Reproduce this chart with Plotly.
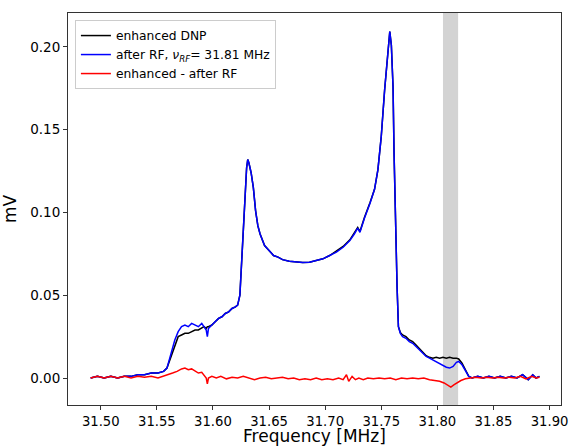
import plotly.graph_objects as go

# ---- data ----
freq = [31.491, 31.497, 31.503, 31.509, 31.515, 31.521, 31.527, 31.533, 31.539, 31.545,
        31.551, 31.556, 31.559, 31.562, 31.566, 31.569, 31.572, 31.575, 31.578, 31.581,
        31.584, 31.587, 31.590, 31.592, 31.594, 31.595, 31.596, 31.599, 31.602, 31.605,
        31.608, 31.611, 31.614, 31.617, 31.620, 31.622, 31.624, 31.626, 31.628, 31.630,
        31.631, 31.632, 31.634, 31.636, 31.638, 31.640, 31.642, 31.646, 31.650, 31.654,
        31.658, 31.662, 31.668, 31.674, 31.680, 31.686, 31.692, 31.698, 31.704, 31.710,
        31.716, 31.722, 31.726, 31.729, 31.731, 31.735, 31.740, 31.744, 31.747, 31.750,
        31.753, 31.756, 31.7576, 31.759, 31.7605, 31.7614, 31.7626, 31.7641, 31.7653, 31.767,
        31.769, 31.772, 31.775, 31.778, 31.781, 31.784, 31.787, 31.790, 31.793, 31.796,
        31.799, 31.802, 31.805, 31.808, 31.811, 31.814, 31.817, 31.819, 31.822, 31.825,
        31.828, 31.831, 31.836, 31.841, 31.846, 31.851, 31.856, 31.861, 31.866, 31.871,
        31.876, 31.881, 31.885, 31.888, 31.891]

after_rf = [0.000, 0.001, 0.000, 0.001, 0.000, 0.001, 0.001, 0.002, 0.002, 0.003,
            0.003, 0.004, 0.006, 0.013, 0.023, 0.028, 0.031, 0.032, 0.031, 0.033,
            0.032, 0.031, 0.033, 0.031, 0.029, 0.025, 0.030, 0.032, 0.034, 0.036,
            0.037, 0.039, 0.040, 0.042, 0.043, 0.044, 0.050, 0.075, 0.105, 0.127,
            0.132, 0.130, 0.124, 0.115, 0.101, 0.092, 0.087, 0.080, 0.077, 0.074,
            0.073, 0.0715, 0.0705, 0.0700, 0.0698, 0.0700, 0.0710, 0.0720, 0.0740, 0.0760,
            0.0790, 0.0830, 0.0870, 0.0905, 0.0880, 0.0965, 0.1055, 0.1140, 0.1257, 0.1460,
            0.1740, 0.1990, 0.2093, 0.2010, 0.1760, 0.1360, 0.0955, 0.0550, 0.0310, 0.0270,
            0.025, 0.024, 0.022, 0.021, 0.019, 0.017, 0.015, 0.013, 0.012, 0.011,
            0.010, 0.009, 0.008, 0.0065, 0.006, 0.007, 0.0095, 0.010, 0.008, 0.004,
            0.001, 0.000, 0.001, 0.000, 0.001, 0.000, 0.001, 0.000, 0.001, 0.000,
            0.002, -0.001, 0.002, 0.000, 0.001]

enhanced = [0.000, 0.001, 0.000, 0.001, 0.000, 0.001, 0.001, 0.002, 0.002, 0.003,
            0.003, 0.004, 0.006, 0.012, 0.020, 0.025, 0.026, 0.027, 0.027, 0.028,
            0.029, 0.029, 0.030, 0.031, 0.030, 0.031, 0.031, 0.032, 0.034, 0.036,
            0.037, 0.039, 0.040, 0.042, 0.043, 0.044, 0.050, 0.075, 0.105, 0.127,
            0.132, 0.130, 0.124, 0.115, 0.101, 0.092, 0.087, 0.080, 0.077, 0.074,
            0.073, 0.0715, 0.0705, 0.0700, 0.0698, 0.0700, 0.0710, 0.0720, 0.0740, 0.0765,
            0.0795, 0.0835, 0.0875, 0.0910, 0.0885, 0.0970, 0.1060, 0.1140, 0.1257, 0.1460,
            0.1740, 0.1990, 0.2093, 0.2010, 0.1760, 0.1360, 0.0955, 0.0550, 0.0310, 0.0275,
            0.026, 0.025, 0.023, 0.022, 0.020, 0.018, 0.016, 0.0135, 0.0125, 0.012,
            0.0125, 0.012, 0.0125, 0.012, 0.0125, 0.012, 0.012, 0.0115, 0.009, 0.005,
            0.001, 0.000, 0.001, 0.000, 0.001, 0.000, 0.001, 0.000, 0.001, 0.000,
            0.002, -0.001, 0.002, 0.000, 0.001]

freq_diff = [31.491, 31.497, 31.503, 31.509, 31.515, 31.521, 31.527, 31.533, 31.539, 31.545,
             31.551, 31.556, 31.560, 31.564, 31.568, 31.572, 31.575, 31.578, 31.581, 31.584,
             31.587, 31.590, 31.592, 31.594, 31.595, 31.596, 31.599, 31.603, 31.607, 31.612,
             31.617, 31.622, 31.627, 31.632, 31.637, 31.642, 31.647, 31.652, 31.657, 31.662,
             31.667, 31.672, 31.677, 31.682, 31.687, 31.692, 31.697, 31.702, 31.707, 31.712,
             31.716, 31.719, 31.721, 31.724, 31.727, 31.730, 31.734, 31.738, 31.743, 31.748,
             31.753, 31.758, 31.763, 31.768, 31.773, 31.778, 31.783, 31.788, 31.793, 31.798,
             31.802, 31.806, 31.809, 31.812, 31.815, 31.818, 31.821, 31.825, 31.829, 31.834,
             31.839, 31.844, 31.849, 31.854, 31.859, 31.864, 31.869, 31.874, 31.879, 31.884,
             31.888, 31.891]

difference = [0.000, 0.001, 0.000, 0.001, 0.000, 0.001, 0.000, 0.001, 0.0005, 0.001,
              0.000, 0.001, 0.002, 0.003, 0.004, 0.0055, 0.006, 0.005, 0.0055, 0.004,
              0.003, 0.0035, 0.002, 0.000, -0.0035, 0.000, 0.001, 0.000, 0.001, -0.0005,
              0.0005, 0.000, 0.001, 0.000, -0.001, 0.000, 0.0005, -0.0005, 0.000, 0.0005,
              -0.0005, 0.000, -0.001, -0.0005, -0.001, 0.000, -0.001, -0.0005, -0.001, 0.000,
              -0.001, 0.002, -0.002, 0.001, -0.001, 0.000, -0.001, 0.000, -0.0005, 0.000,
              -0.0005, 0.000, -0.001, 0.000, -0.0005, 0.000, -0.0005, 0.000, -0.001, -0.0015,
              -0.002, -0.003, -0.0045, -0.0055, -0.004, -0.0025, -0.0015, -0.0005, 0.000, 0.0005,
              0.000, 0.0005, 0.000, 0.0005, 0.000, 0.0005, 0.000, 0.001, -0.0005, 0.001,
              0.000, 0.0005]

band_start, band_end = 31.805, 31.8185
x_ticks = [31.50, 31.55, 31.60, 31.65, 31.70, 31.75, 31.80, 31.85, 31.90]
x_tick_labels = ["31.50", "31.55", "31.60", "31.65", "31.70", "31.75", "31.80", "31.85", "31.90"]
y_ticks = [0.00, 0.05, 0.10, 0.15, 0.20]
y_tick_labels = ["0.00", "0.05", "0.10", "0.15", "0.20"]

FONT = "DejaVu Sans"

fig = go.Figure()
fig.add_trace(go.Scatter(x=freq, y=enhanced, mode="lines", name="enhanced DNP",
                         line=dict(color="black", width=1.5)))
fig.add_trace(go.Scatter(x=freq, y=after_rf, mode="lines",
                         name="after RF, <i>ν<sub>RF</sub></i>= 31.81 MHz",
                         line=dict(color="blue", width=1.5)))
fig.add_trace(go.Scatter(x=freq_diff, y=difference, mode="lines", name="enhanced - after RF",
                         line=dict(color="red", width=1.5)))

fig.add_vrect(x0=band_start, x1=band_end, fillcolor="#d3d3d3", opacity=1,
              line_width=0, layer="below")

fig.update_layout(
    width=569, height=446,
    margin=dict(l=68, r=8, t=13, b=41, autoexpand=False),
    paper_bgcolor="white", plot_bgcolor="white",
    font=dict(family=FONT, color="black", size=13.5),
    showlegend=True,
    legend=dict(x=0.014, y=0.982, xanchor="left", yanchor="top",
                bgcolor="rgba(255,255,255,0.8)", bordercolor="#cccccc", borderwidth=1,
                font=dict(family=FONT, size=12.3, color="black"),
                tracegroupgap=0, itemwidth=30),
    xaxis=dict(range=[31.4708, 31.9102], tickvals=x_ticks, ticktext=x_tick_labels,
               showgrid=False, zeroline=False, showline=True, linecolor="#333",
               linewidth=1, mirror=True, ticks="outside", ticklen=4, tickcolor="#333",
               tickfont=dict(size=13.2), automargin=False, ticklabeloverflow="allow",
               title=dict(text="Frequency [MHz]", font=dict(size=17), standoff=0)),
    yaxis=dict(range=[-0.0163, 0.2205], tickvals=y_ticks, ticktext=y_tick_labels,
               showgrid=False, zeroline=False, showline=True, linecolor="#333",
               linewidth=1, mirror=True, ticks="outside", ticklen=4, tickcolor="#333",
               tickfont=dict(size=13.5), automargin=False,
               title=dict(text="mV", font=dict(size=17), standoff=9)),
)

# remove the default page margin so the figure fills the window exactly
fig.write_html("out.html", config={"displayModeBar": False},
               post_script="document.body.style.margin='0';document.body.style.overflow='hidden';")
